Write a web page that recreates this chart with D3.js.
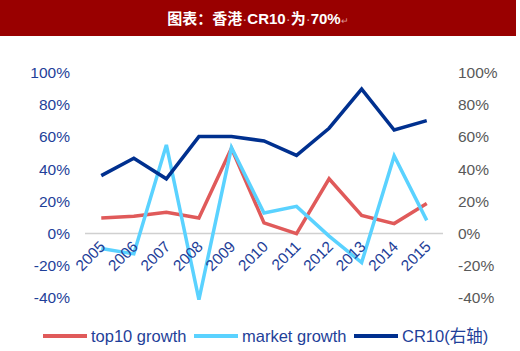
<!DOCTYPE html>
<html>
<head>
<meta charset="utf-8">
<script src="https://cdn.jsdelivr.net/npm/d3@7"></script>
<style>
  body { margin: 0; background: #fff; }
  svg { display: block; font-family: "Liberation Sans", Arial, "Noto Sans CJK SC", sans-serif; }
</style>
</head>
<body>
<div id="chart"></div>
<script>
// Chart data
const years = ["2005", "2006", "2007", "2008", "2009", "2010", "2011", "2012", "2013", "2014", "2015"];
const top10Growth = [9.7, 10.7, 13.2, 9.7, 53, 6.6, 0, 34, 11.3, 6.2, 18.6];
const marketGrowth = [-9.3, -12.6, 55, -41, 53.4, 12.8, 16.9, -1.6, -18, 48.2, 8.2];
const cr10 = [36, 46.8, 34, 60.2, 60.2, 57.5, 48.5, 65.4, 89.7, 64.3, 70.1];
const yTicks = [-40, -20, 0, 20, 40, 60, 80, 100];

const seriesNames = ["top10 growth", "market growth", "CR10(右轴)"];
const seriesColors = ["#e05a5a", "#5ad2ff", "#00308f"];

const width = 520;
const height = 351;
const plotLeft = 85;
const plotRight = 443;

const svg = d3.select("#chart")
    .append("svg")
    .attr("width", width)
    .attr("height", height);

// Title bar
svg.append("rect")
    .attr("x", 0).attr("y", 0)
    .attr("width", 516).attr("height", 36)
    .attr("fill", "#990000");

const title = svg.append("text")
    .attr("x", 258)
    .attr("y", 24)
    .attr("text-anchor", "middle")
    .attr("fill", "#fff")
    .style("font-size", "15px")
    .style("font-weight", "bold")
    .style("font-family", "'Liberation Sans', Arial, 'Noto Sans CJK SC', sans-serif");
title.append("tspan").text("图表：香港");
title.append("tspan").attr("fill", "#d99").style("font-weight", "normal").text("·");
title.append("tspan").text("CR10");
title.append("tspan").attr("fill", "#d99").style("font-weight", "normal").text("·");
title.append("tspan").text("为");
title.append("tspan").attr("fill", "#d99").style("font-weight", "normal").text("·");
title.append("tspan").text("70%");
title.append("tspan").attr("fill", "#d99").style("font-weight", "normal").style("font-size", "9px").text("↵");

// Scales
const x = d3.scalePoint()
    .domain(years)
    .range([plotLeft, plotRight])
    .padding(0.5);

const y = d3.scaleLinear()
    .domain([-40, 100])
    .range([298, 72.5]);

// Zero line
svg.append("line")
    .attr("x1", plotLeft).attr("x2", plotRight)
    .attr("y1", y(0)).attr("y2", y(0))
    .attr("stroke", "#d0d0d0")
    .attr("stroke-width", 1.5);

// Left axis
const yLeft = svg.append("g")
    .attr("transform", `translate(${plotLeft},0)`)
    .call(d3.axisLeft(y).tickValues(yTicks).tickSize(0).tickPadding(15).tickFormat(d => d + "%"));
yLeft.select(".domain").remove();
yLeft.selectAll("text")
    .attr("fill", "#1f3f99")
    .style("font-size", "15.5px")
    .style("font-family", "'Liberation Sans', Arial, sans-serif");

// Right axis
const yRight = svg.append("g")
    .attr("transform", `translate(${plotRight},0)`)
    .call(d3.axisRight(y).tickValues(yTicks).tickSize(0).tickPadding(15).tickFormat(d => d + "%"));
yRight.select(".domain").remove();
yRight.selectAll("text")
    .attr("fill", "#595959")
    .style("font-size", "15.5px")
    .style("font-family", "'Liberation Sans', Arial, sans-serif");

// Lines
const line = d3.line()
    .x((d, i) => x(years[i]))
    .y(d => y(d));

[top10Growth, marketGrowth, cr10].forEach((values, i) => {
  svg.append("path")
      .datum(values)
      .attr("fill", "none")
      .attr("stroke", seriesColors[i])
      .attr("stroke-width", 3.5)
      .attr("stroke-linejoin", "miter")
      .attr("d", line);
});

// X labels, rotated
svg.append("g")
    .selectAll("text")
    .data(years)
    .join("text")
    .attr("transform", d => `translate(${x(d) + 5},${y(0) + 14}) rotate(-45)`)
    .attr("text-anchor", "end")
    .attr("fill", "#1f3f99")
    .style("font-size", "15.5px")
    .text(d => d);

// Legend
const legendX = [43, 194, 354];
const legend = svg.append("g")
    .selectAll("g")
    .data(seriesNames)
    .join("g")
    .attr("transform", (d, i) => `translate(${legendX[i]},336)`);

legend.append("line")
    .attr("x1", 0).attr("x2", 44)
    .attr("y1", 0).attr("y2", 0)
    .attr("stroke", (d, i) => seriesColors[i])
    .attr("stroke-width", 4);

legend.append("text")
    .attr("x", 48)
    .attr("y", 6)
    .attr("fill", "#1f3f99")
    .style("font-size", "16.5px")
    .text(d => d);
</script>
</body>
</html>
